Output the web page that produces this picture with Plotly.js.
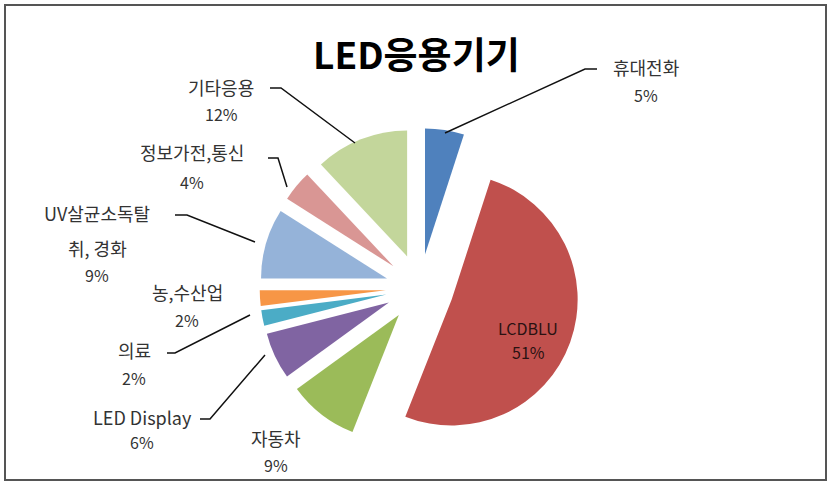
<!DOCTYPE html>
<html>
<head>
<meta charset="utf-8">
<script src="https://cdn.plot.ly/plotly-3.0.1.min.js"></script>
<style>html,body{margin:0;padding:0;background:#fff;}#chart{width:835px;height:486px;}</style>
</head>
<body>
<div id="chart"></div>
<script>
// ---- data ----
const categories = ["휴대전화", "LCDBLU", "자동차", "LED Display", "의료", "농,수산업", "UV살균소독탈취, 경화", "정보가전,통신", "기타응용"];
const shares = [5, 51, 9, 6, 2, 2, 9, 4, 12];
const chartTitle = "LED응용기기";

// ---- style ----
const W = 835, H = 486;
const colors = ["#4F81BD", "#C0504D", "#9BBB59", "#8064A2", "#4BACC6", "#F79646", "#95B3D9", "#D99694", "#C3D69B"];
const font = "'Noto Sans CJK KR', 'Noto Sans', sans-serif";
// label layout in pixels: center x, name line y(s), percent y
const labelLayout = [
  {x: 646, lines: [67], py: 95},
  {x: 528, lines: [328], py: 352, inside: true},
  {x: 276, lines: [438], py: 465},
  {x: 142, lines: [417], py: 442},
  {x: 134, lines: [350], py: 378},
  {x: 187, lines: [292], py: 320},
  {x: 97, lines: [213, 248], py: 275, wrapAt: 7},
  {x: 192, lines: [152], py: 182},
  {x: 221, lines: [87], py: 114}
];
const leaders = [
  [[597,69],[585,69],[445,133]],
  [[270,88],[281,88],[355,143]],
  [[268,158],[278,158],[287,187]],
  [[175,215],[187,215],[255,242]],
  [[167,353],[175,353],[250,315]],
  [[200,419],[210,419],[265,355]]
];
const px = (x) => x / W;
const py = (y) => 1 - y / H;

const total = shares.reduce((a, b) => a + b, 0);
const annotations = [];
categories.forEach((name, i) => {
  const L = labelLayout[i];
  const col = L.inside ? '#2a1212' : '#333';
  let parts = [name];
  if (L.wrapAt) parts = [name.slice(0, L.wrapAt), name.slice(L.wrapAt)];
  parts.forEach((t, k) => {
    annotations.push({x: px(L.x), y: py(L.lines[k]), xref: 'paper', yref: 'paper', text: t.trim(),
      showarrow: false, xanchor: 'center', yanchor: 'middle', font: {family: font, size: L.inside ? 16 : 18, color: col}});
  });
  annotations.push({x: px(L.x), y: py(L.py), xref: 'paper', yref: 'paper',
    text: Math.round(shares[i] / total * 100) + '%', showarrow: false, xanchor: 'center', yanchor: 'middle',
    font: {family: font, size: 16, color: col}});
});
annotations.push({x: px(416), y: py(53), xref: 'paper', yref: 'paper', text: '<b>' + chartTitle + '</b>',
  showarrow: false, xanchor: 'center', yanchor: 'middle', font: {family: font, size: 37, color: '#000'}});

const shapes = [{type: 'rect', xref: 'paper', yref: 'paper', x0: px(5), y0: py(5), x1: px(826), y1: py(480),
  line: {color: '#555', width: 2}, fillcolor: 'rgba(0,0,0,0)'}];
leaders.forEach(pts => {
  const d = 'M ' + pts.map(p => px(p[0]) + ',' + py(p[1])).join(' L ');
  shapes.push({type: 'path', xref: 'paper', yref: 'paper', path: d, line: {color: '#111', width: 1.5}});
});

const trace = {
  type: 'pie',
  labels: categories,
  values: shares,
  sort: false,
  direction: 'clockwise',
  rotation: 0,
  pull: categories.map(() => 0.27),
  marker: {colors: colors, line: {width: 0}},
  textinfo: 'none',
  hoverinfo: 'label+percent',
  showlegend: false,
  domain: {x: [0.3110, 0.6942], y: [0.0782, 0.7366]}
};

Plotly.newPlot('chart', [trace], {
  width: W, height: H,
  margin: {l: 0, r: 0, t: 0, b: 0},
  paper_bgcolor: '#fff',
  showlegend: false,
  annotations: annotations,
  shapes: shapes
}, {displayModeBar: false, staticPlot: true});
</script>
</body>
</html>
